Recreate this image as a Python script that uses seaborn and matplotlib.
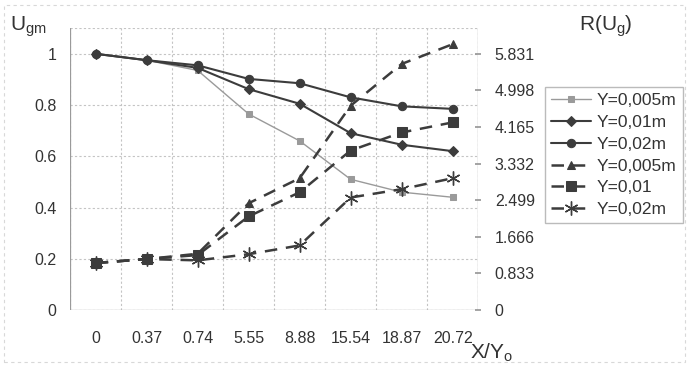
import numpy as np
import pandas as pd
import matplotlib
matplotlib.use('Agg')
import matplotlib.pyplot as plt
import seaborn as sns

# categories on x axis (X/Yo)
x_labels = ['0', '0.37', '0.74', '5.55', '8.88', '15.54', '18.87', '20.72']

# left axis: Ugm
ugm_005 = [1.0, 0.975, 0.935, 0.765, 0.66, 0.51, 0.46, 0.44]
ugm_01 = [1.0, 0.975, 0.945, 0.862, 0.805, 0.69, 0.645, 0.62]
ugm_02 = [1.0, 0.975, 0.955, 0.902, 0.885, 0.83, 0.795, 0.785]

# right axis: R(Ug)
r_005 = [1.07, 1.16, 1.28, 2.43, 3.0, 4.65, 5.6, 6.05]
r_01 = [1.07, 1.16, 1.25, 2.13, 2.68, 3.63, 4.04, 4.27]
r_02 = [1.07, 1.16, 1.13, 1.27, 1.47, 2.56, 2.75, 3.0]

left_ticks = [0, 0.2, 0.4, 0.6, 0.8, 1.0]
left_tick_labels = ['0', '0.2', '0.4', '0.6', '0.8', '1']
right_ticks = [0, 0.833, 1.666, 2.499, 3.332, 4.165, 4.998, 5.831]

sns.set_theme(style='white')
plt.rcParams['font.family'] = ['Liberation Sans', 'DejaVu Sans']
txt = '#333333'

fig = plt.figure(figsize=(6.88, 3.66), dpi=100)
ax = fig.add_axes([0.102, 0.153, 0.593, 0.770])
ax2 = ax.twinx()

xpos = np.arange(len(x_labels))
dark = '#3c3c3c'

sns.lineplot(x=xpos, y=ugm_005, ax=ax, color='#9a9a9a', lw=1.0, marker='s',
             markersize=5, markeredgecolor='#9a9a9a', label='Y=0,005m', legend=False)
sns.lineplot(x=xpos, y=ugm_01, ax=ax, color=dark, lw=1.5, marker='D',
             markersize=5, markeredgecolor=dark, label='Y=0,01m', legend=False)
sns.lineplot(x=xpos, y=ugm_02, ax=ax, color=dark, lw=1.5, marker='o',
             markersize=6, markeredgecolor=dark, label='Y=0,02m', legend=False)

dash = (5, 3.5)
sns.lineplot(x=xpos, y=r_005, ax=ax2, color=dark, lw=1.8, marker='^',
             markersize=6, markeredgecolor=dark, label='Y=0,005m', legend=False)
sns.lineplot(x=xpos, y=r_01, ax=ax2, color=dark, lw=1.8, marker='s',
             markersize=7, markeredgecolor=dark, label='Y=0,01', legend=False)
sns.lineplot(x=xpos, y=r_02, ax=ax2, color=dark, lw=1.8, marker=(6, 2, 0),
             markersize=10, markeredgecolor=dark, markeredgewidth=1.0, label='Y=0,02m', legend=False)
for ln in ax2.get_lines():
    ln.set_dashes(dash)

ax.set_xlim(-0.5, len(x_labels) - 0.5)
ax.set_ylim(0, 1.1)
ax2.set_ylim(0, 1.1 * 5.831)

ax.set_xticks(xpos)
ax.set_xticklabels(x_labels, fontsize=11.5, color=txt)
ax.set_yticks(left_ticks)
ax.set_yticklabels(left_tick_labels, fontsize=11.5, color=txt)
ax2.set_yticks(right_ticks)
ax2.set_yticklabels([f'{t:g}' if t == 0 else f'{t:.3f}' for t in right_ticks], fontsize=11.5, color=txt)
ax.tick_params(axis='x', length=0, pad=15)
ax.tick_params(axis='y', length=0, pad=10)
ax2.tick_params(axis='y', length=4, color='#999999', pad=10, direction='inout')

# grid: horizontal at y ticks, vertical at category boundaries
for yv in left_ticks + [1.1]:
    ax.axhline(yv, color='#c4c4c4', lw=0.8, ls=(0, (2, 2)), zorder=0)
for xb in np.arange(-0.5, len(x_labels), 1.0):
    ax.axvline(xb, color='#c4c4c4', lw=0.8, ls=(0, (2, 2)), zorder=0)

for a in (ax, ax2):
    for s in a.spines.values():
        s.set_visible(False)
ax.axvline(-0.5, color='#9a9a9a', lw=0.9)
ax.axhline(0, color='#9a9a9a', lw=0.9)
ax2.axvline(len(x_labels) - 0.5, color='#9a9a9a', lw=0.9)

# faint outer frame of the picture
fig.patches.append(plt.Rectangle((0.006, 0.01), 0.99, 0.975, transform=fig.transFigure,
                                 fill=False, edgecolor='#d8d8d8', lw=0.8, ls=(0, (3, 3))))

fig.text(0.014, 0.915, r'$\mathregular{U_{gm}}$', fontsize=15, color=txt)
fig.text(0.842, 0.915, r'$\mathregular{R(U_g)}$', fontsize=15, color=txt)
fig.text(0.683, 0.02, r'$\mathregular{X/Y_o}$', fontsize=15, color=txt)

h1, lab1 = ax.get_legend_handles_labels()
h2, lab2 = ax2.get_legend_handles_labels()
leg = fig.legend(h1 + h2, lab1 + lab2, loc='upper left', bbox_to_anchor=(0.792, 0.762),
                 fontsize=12.5, frameon=True, fancybox=False, edgecolor='#aaaaaa',
                 handlelength=2.3, handletextpad=0.35, labelspacing=0.38, borderpad=0.35,
                 borderaxespad=0)
for t in leg.get_texts():
    t.set_color(txt)

fig.savefig('out.png', dpi=100, facecolor='white')
